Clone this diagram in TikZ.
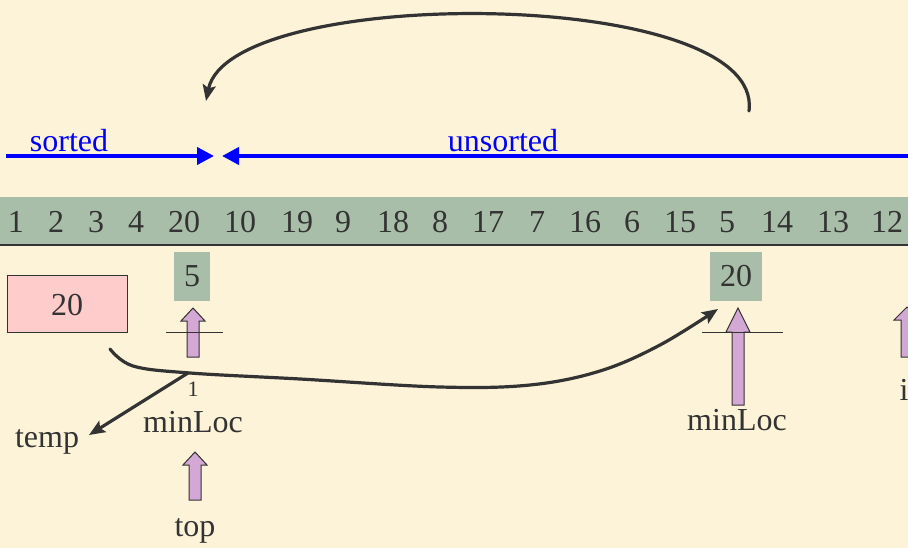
\documentclass[tikz,border=0pt]{standalone}
\usepackage{fontspec}
\setmainfont{Liberation Serif}
\usetikzlibrary{arrows.meta}
\definecolor{bgcream}{HTML}{FCF3D8}
\definecolor{bandgreen}{HTML}{A9BEA8}
\definecolor{txtgray}{HTML}{333333}
\definecolor{pinkbox}{HTML}{FFCCCC}
\definecolor{lilac}{HTML}{D4A8D4}
\newcommand{\blockup}[6]{%
  \draw[blockarr] (#1,#2) -- ({#1+#6},#3) -- ({#1+#5},#3) -- ({#1+#5},#4)
    -- ({#1-#5},#4) -- ({#1-#5},#3) -- ({#1-#6},#3) -- cycle;}
\tikzset{
  lbl/.style={anchor=base, inner sep=0pt, text=txtgray, font=\fontsize{32}{36}\selectfont},
  bluelbl/.style={anchor=base, inner sep=0pt, text=blue, font=\fontsize{32}{36}\selectfont},
  smalllbl/.style={anchor=base, inner sep=0pt, text=txtgray, font=\fontsize{22}{24}\selectfont},
  greenbox/.style={fill=bandgreen, draw=none},
  blockarr/.style={fill=lilac, draw=txtgray, line width=1pt, line join=miter},
  bluearr/.style={draw=blue, line width=4pt, -{Triangle[length=17pt,width=17pt]}},
  darkarr/.style={draw=txtgray, line width=3.2pt, line cap=round, -{Stealth[length=16pt,width=13pt,inset=3pt]}},
  thinline/.style={draw=txtgray, line width=1pt}
}
\begin{document}
\begin{tikzpicture}[x=1pt,y=-1pt]
\useasboundingbox (0,0) rectangle (908,548);
\clip (0,0) rectangle (908,548);
\fill[bgcream] (0,0) rectangle (908,548);
% band
\fill[bandgreen] (0,197) rectangle (908,245);
\draw[txtgray, line width=1.5pt] (0,245) -- (908,245);
\foreach \xx/\vv [count=\k] in {16/1,56/2,96/3,136/4,184/20,240/10,297/19,343/9,393/18,440/8,488/17,537/7,585/16,632/6,680/15,727/5,777/14,833/13,887/12}
  \node[lbl] (n\k) at (\xx,233) {\vv};
% blue arrows
\coordinate (sL) at (6,156);
\coordinate (sR) at (214,156);
\coordinate (uR) at (910,156);
\coordinate (uL) at (222,156);
\draw[bluearr] (sL) -- (sR);
\draw[bluearr] (uR) -- (uL);
\node[bluelbl] (sorted) at (69,152) {sorted};
\node[bluelbl] (unsorted) at (503,152) {unsorted};
% top arc
\coordinate (arcA) at (749,111);
\coordinate (arcB) at (206,101);
\draw[darkarr] (arcA) .. controls (765,-14) and (230,-16) .. (arcB);
% small boxes
\fill[greenbox] (174,252) rectangle (210,301);
\node[lbl] (five) at (192,287) {5};
\fill[greenbox] (710,252) rectangle (762,301);
\node[lbl] (twenty) at (736,287) {20};
\draw[txtgray, line width=1pt, fill=pinkbox] (7,276) rectangle (127,332);
\node[lbl] (temp20) at (67,315) {20};
% block arrows
\blockup{193}{308}{321}{357}{6}{12}
\draw[thinline] (166,332) -- (223,332);
\blockup{738}{308}{332}{405}{6}{12}
\draw[thinline] (702,332) -- (783,332);
\blockup{195}{452}{465}{500}{6}{12}
\blockup{907}{307}{320}{357}{6}{13}
% labels
\node[lbl] (minL) at (193,432) {minLoc};
\node[lbl] (minR) at (737,430) {minLoc};
\node[lbl] (temp) at (47,447) {temp};
\node[lbl] (top) at (195,536) {top};
\node[lbl] (ilbl) at (904,400) {i};
\node[smalllbl] (one) at (193,396) {1};
% swap curve
\coordinate (c0) at (110,349);
\coordinate (c1) at (188,373);
\coordinate (tempTip) at (89,435);
\coordinate (c9) at (718,309);
\draw[darkarr] plot[smooth, tension=0.6] coordinates {(110,349) (133,366) (190,373) (300,379) (440,387) (530,385) (600,371) (660,345) (718,309)};
\draw[darkarr] (c1) -- (tempTip);
\end{tikzpicture}
\end{document}
